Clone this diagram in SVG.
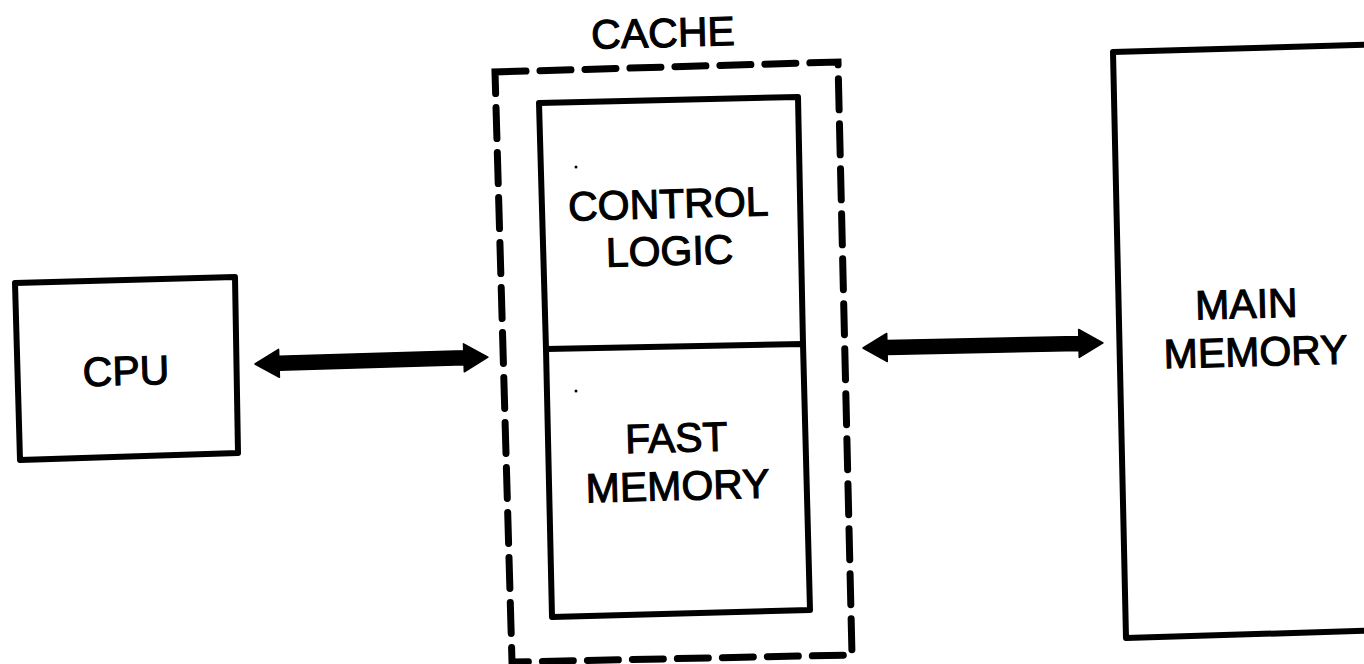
<svg xmlns="http://www.w3.org/2000/svg" width="1364" height="664" viewBox="0 0 1364 664">
  <style>
    .box { fill: none; stroke: #000; stroke-width: 6; stroke-linejoin: round; stroke-linecap: round; }
    .dash { fill: none; stroke: #000; stroke-width: 7; stroke-linecap: round; stroke-dasharray: 31 14; }
    .lbl { font-family: "Liberation Sans", Arial, Helvetica, sans-serif; font-size: 41px; fill: #000; stroke: #000; stroke-width: 1.1; text-anchor: middle; }
    .arrow { fill: #000; stroke: #000; stroke-width: 1.5; stroke-linejoin: round; }
  </style>
  <defs>
    <!-- double-headed bus arrow, drawn along +x from 0 -->
    <path id="bus233" d="M0,0 L24,-14 L24,-7 L209,-7 L209,-14 L233,0 L209,14 L209,7 L24,7 L24,14 Z"/>
    <path id="bus240" d="M0,0 L24,-14 L24,-7 L216,-7 L216,-14 L240,0 L216,14 L216,7 L24,7 L24,14 Z"/>
  </defs>
  <rect width="1364" height="664" fill="#fff"/>

  <g id="cpu">
    <path class="box" d="M15,283 L235,277 L238,453 L20,460 Z"/>
    <text class="lbl" x="126" y="385" font-size="40" transform="rotate(-1.5 126 372)">CPU</text>
  </g>

  <g id="cache">
    <path class="dash" d="M495,72 L838,62 L852,655 L512,662 Z"/>
    <text class="lbl" x="663" y="47" font-size="40" transform="rotate(-1.5 663 34)">CACHE</text>
    <g id="control-logic">
      <path class="box" d="M546,349 L539,103 L798,97 L803,344"/>
      <text class="lbl" x="669" y="218" transform="rotate(-1.5 669 230)">CONTROL</text>
      <text class="lbl" x="669" y="265" transform="rotate(-1.5 669 230)">LOGIC</text>
    </g>
    <g id="fast-memory">
      <path class="box" d="M546,349 L803,344 L810,610 L552,617 Z"/>
      <text class="lbl" x="677" y="452" transform="rotate(-1.5 677 465)">FAST</text>
      <text class="lbl" x="677" y="500" transform="rotate(-1.5 677 465)">MEMORY</text>
    </g>
    <circle cx="576" cy="167" r="1.5" fill="#000"/>
    <circle cx="576" cy="391" r="1.5" fill="#000"/>
  </g>

  <g id="main-memory">
    <path class="box" d="M1390,44 L1113,52 L1126,638 L1390,630"/>
    <text class="lbl" x="1247" y="318" font-size="40" transform="rotate(-1.5 1252 330)">MAIN</text>
    <text class="lbl" x="1255" y="366" font-size="40" transform="rotate(-1.5 1252 330)">MEMORY</text>
  </g>

  <g id="connectors">
    <use href="#bus233" class="arrow" transform="translate(255,364) rotate(-1.7)"/>
    <use href="#bus240" class="arrow" transform="translate(863,348) rotate(-1.2)"/>
  </g>
</svg>
